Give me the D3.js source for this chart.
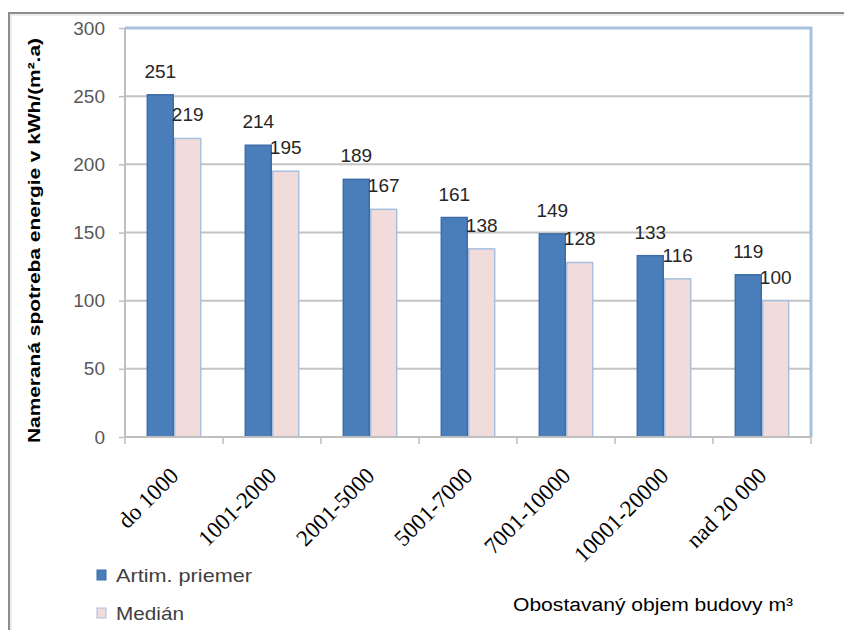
<!DOCTYPE html>
<html><head><meta charset="utf-8">
<script src="https://cdn.jsdelivr.net/npm/d3@7"></script>
<style>body{margin:0;background:#fff}svg{display:block}</style>
</head><body>
<script>
const categories = ["do 1000","1001-2000","2001-5000","5001-7000","7001-10000","10001-20000","nad 20 000"];
const seriesNames = ["Artim. priemer","Medián"];
const priemer = [251,214,189,161,149,133,119];
const median = [219,195,167,138,128,116,100];
const yTicks = [0,50,100,150,200,250,300];
const yTitle = "Nameraná spotreba energie  v kWh/(m².a)";
const xTitle = "Obostavaný objem budovy m³";
const colors = ["#4a7ebb","#f2dcdb"];
const strokes = ["#3d6ca6","#a7c0e0"];

const W=844,H=630;
const svg=d3.select("body").append("svg").attr("width",W).attr("height",H);
svg.append("rect").attr("width",W).attr("height",H).attr("fill","#fff");
// outer border (clipped at right/bottom)
svg.append("path").attr("d","M9,640 V13 H850").attr("fill","none").attr("stroke","#8c8c8c").attr("stroke-width",2);
svg.append("path").attr("d","M11,640 V15 H850").attr("fill","none").attr("stroke","#e6e6e6").attr("stroke-width",1.5);

const L=125,R=811,T=28,B=437;
const y=d3.scaleLinear().domain([0,300]).range([B,T]);
const x0=d3.scaleBand().domain(categories).range([L,R]).paddingInner(0.44).paddingOuter(0.22);
const x1=d3.scaleBand().domain(seriesNames).range([0,x0.bandwidth()]);

// gridlines
svg.append("g").selectAll("line").data(yTicks.slice(1)).join("line")
  .attr("x1",L).attr("x2",R).attr("y1",d=>y(d)).attr("y2",d=>y(d))
  .attr("stroke","#c4c4c4").attr("stroke-width",2);

// y axis
const ya=svg.append("g").attr("transform",`translate(${L},0)`)
  .call(d3.axisLeft(y).tickValues(yTicks).tickSize(6).tickPadding(14));
ya.select(".domain").attr("stroke","#bfbfbf").attr("stroke-width",2).attr("d",`M0,${B}V${T}`);
ya.selectAll(".tick line").attr("stroke","#bfbfbf").attr("stroke-width",1.5);
ya.selectAll("text").attr("font-family","Liberation Sans, Arial, sans-serif").attr("font-size",19).attr("fill","#595959");

// plot border top/right
svg.append("path").attr("d",`M${L},${T} H${R} V${B}`).attr("fill","none").attr("stroke","#a7c0e0").attr("stroke-width",3);

// bars
const series=[priemer,median];
const g=svg.append("g");
series.forEach((vals,si)=>{
  g.selectAll(null).data(vals).join("rect")
    .attr("x",(d,i)=>x0(categories[i])+x1(seriesNames[si])+0.75)
    .attr("width",x1.bandwidth()-1.5)
    .attr("y",d=>y(d)).attr("height",d=>B-y(d))
    .attr("fill",colors[si]).attr("stroke",strokes[si]).attr("stroke-width",1.5);
});

// x axis line and ticks
svg.append("line").attr("x1",L).attr("x2",R).attr("y1",B).attr("y2",B).attr("stroke","#bfbfbf").attr("stroke-width",2);
const step=x0.step();
svg.append("g").selectAll("line").data(d3.range(categories.length+1)).join("line")
  .attr("x1",i=>L+i*step).attr("x2",i=>L+i*step).attr("y1",B).attr("y2",B+7)
  .attr("stroke","#bfbfbf").attr("stroke-width",1.5);

// data labels
series.forEach((vals,si)=>{
  svg.append("g").selectAll("text").data(vals).join("text")
    .attr("x",(d,i)=>x0(categories[i])+x1(seriesNames[si])+x1.bandwidth()/2)
    .attr("y",d=>y(d)-17)
    .attr("text-anchor","middle").attr("font-family","Liberation Sans, Arial, sans-serif")
    .attr("font-size",19).attr("fill","#262626").text(d=>d);
});

// x labels
svg.append("g").selectAll("text").data(categories).join("text")
  .attr("transform",d=>`translate(${x0(d)+x0.bandwidth()/2+6},${B+40}) rotate(-45)`)
  .attr("text-anchor","end").attr("font-family","Liberation Serif, Times New Roman, serif")
  .attr("font-size",23).attr("fill","#000").text(d=>d);

// y title
svg.append("text").attr("transform",`translate(40,${(T+B)/2+8}) rotate(-90)`)
  .attr("text-anchor","middle").attr("font-family","Liberation Sans, Arial, sans-serif")
  .attr("font-weight","bold").attr("font-size",17).attr("fill","#000")
  .attr("textLength",405).attr("lengthAdjust","spacingAndGlyphs").text(yTitle);

// x title
svg.append("text").attr("x",513).attr("y",611).attr("font-family","Liberation Sans, Arial, sans-serif")
  .attr("font-size",18).attr("fill","#000").attr("textLength",280).attr("lengthAdjust","spacingAndGlyphs").text(xTitle);

// legend
const lg=svg.append("g");
const legLen=[136,68];
seriesNames.forEach((s,i)=>{
  const yy=[575,613][i];
  lg.append("rect").attr("x",97).attr("y",yy-5).attr("width",9).attr("height",10)
    .attr("fill",colors[i]).attr("stroke",strokes[i]).attr("stroke-width",1);
  lg.append("text").attr("x",116).attr("y",yy+7).attr("font-family","Liberation Sans, Arial, sans-serif")
    .attr("font-size",19).attr("fill","#404040")
    .attr("textLength",legLen[i]).attr("lengthAdjust","spacingAndGlyphs").text(s);
});
</script>
</body></html>
